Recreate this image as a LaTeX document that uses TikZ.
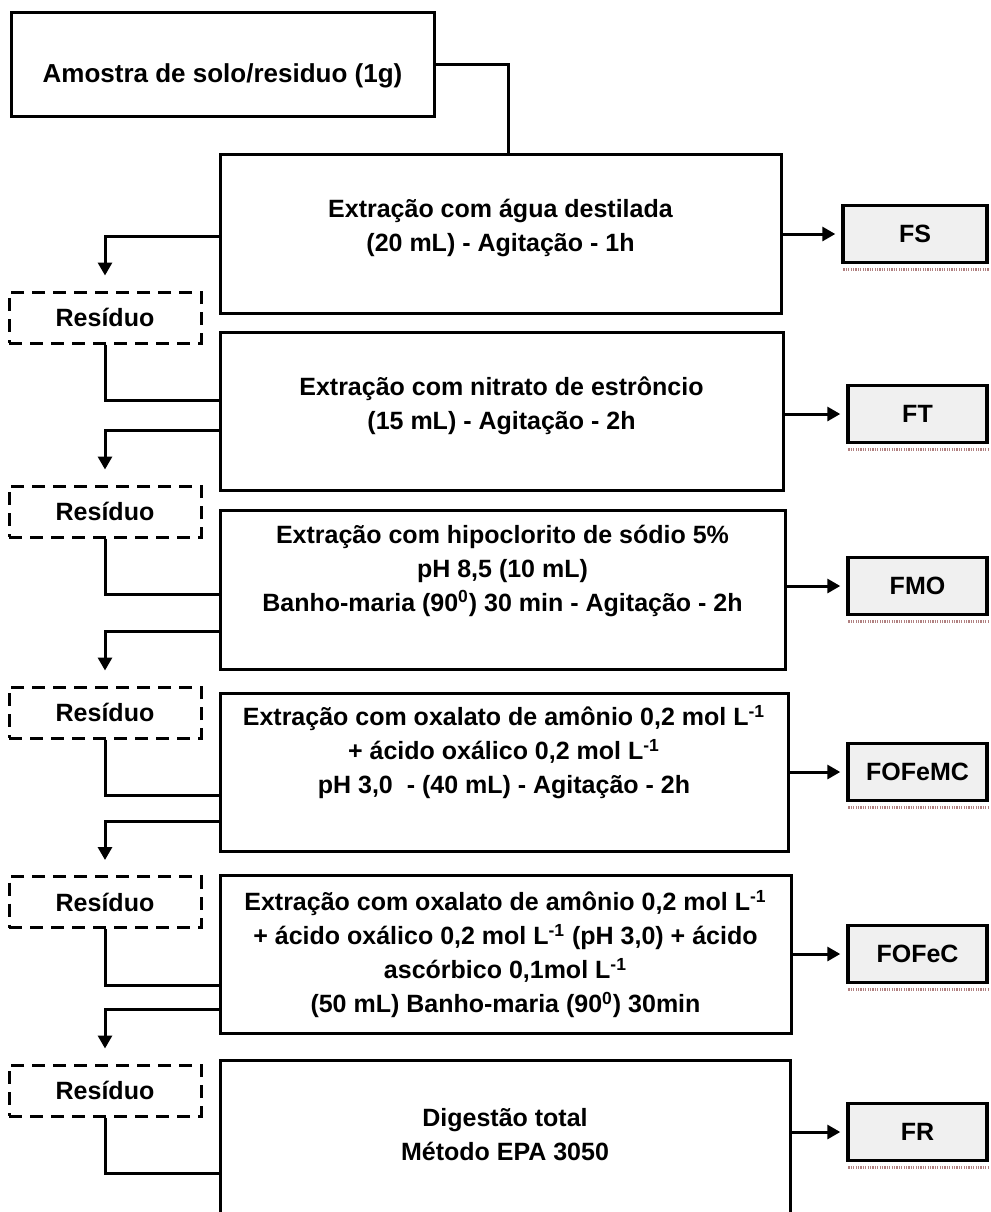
\documentclass[tikz,border=0pt]{standalone}
\usepackage{fontspec}
\setmainfont{Liberation Sans}
\usepackage{tikz}
\usetikzlibrary{shapes, arrows.meta, positioning, calc}
\definecolor{boxgray}{RGB}{240, 240, 240}
\definecolor{shadered}{RGB}{176, 128, 128}

\begin{document}
\begin{tikzpicture}[x=0.5pt, y=-0.5pt,
    stage/.style={rectangle, draw=black, line width=1.5pt, inner sep=0pt,
      minimum height=79.5pt},
    txt/.style={align=center, font=\fontsize{12.5}{17}\selectfont\bfseries},
    resid/.style={rectangle, draw=black, line width=1.5pt, dash pattern=on 6.5pt off 4pt,
      minimum width=96pt, minimum height=25.5pt, font=\fontsize{12.5}{14}\selectfont\bfseries},
    frac/.style={rectangle, draw=black, fill=boxgray, line width=1.7pt,
      minimum width=69.5pt, minimum height=28.5pt, font=\fontsize{12.5}{14}\selectfont\bfseries},
    flow/.style={line width=1.5pt},
    arr/.style={line width=1.5pt, -{Triangle[length=6.5pt, width=7pt]}},
    shadeline/.style={shadered, line width=1.5pt, dash pattern=on 0.6pt off 0.6pt}
  ]
    \useasboundingbox (0,0) rectangle (991,1212);
    \clip (0,0) rectangle (991,1212);

    \node[stage, minimum width=211.5pt, minimum height=52pt] (amo) at (222.5,64) {};
    \node[txt, font=\fontsize{13}{17}\selectfont\bfseries] (t0) at ([yshift=-6pt]amo.center)
      {Amostra de solo/residuo (1g)};
    \coordinate (j0) at (508,154);

    \node[stage, minimum width=280.5pt] (b1) at (500.5,233.5) {};
    \node[stage, minimum width=281.5pt, minimum height=79pt] (b2) at (501.5,411) {};
    \node[stage, minimum width=282.5pt] (b3) at (502.5,589.5) {};
    \node[stage, minimum width=284pt, minimum height=79pt] (b4) at (504,772) {};
    \node[stage, minimum width=285.5pt, minimum height=79pt] (b5) at (505.5,954) {};
    \node[stage, minimum width=285pt, minimum height=90pt] (b6) at (505,1150) {};

    \node[txt] (t1) at ([yshift=2.75pt]b1.center)
      {Extração com água destilada\\(20 mL) - Agitação - 1h};
    \node[txt] (t2) at ([yshift=2.5pt]b2.center)
      {Extração com nitrato de estrôncio\\(15 mL) - Agitação - 2h};
    \node[txt] (t3) at ([yshift=9.25pt]b3.center)
      {Extração com hipoclorito de sódio 5\%\\pH 8,5 (10 mL)\\
       Banho-maria (90\textsuperscript{0}) 30 min - Agitação - 2h};
    \node[txt] (t4) at ([yshift=10pt]b4.center)
      {Extração com oxalato de amônio 0,2 mol L\textsuperscript{-1}\\
       + ácido oxálico 0,2 mol L\textsuperscript{-1}\\pH 3,0 \ - (40 mL) - Agitação - 2h};
    \node[txt] (t5) at (b5.center)
      {Extração com oxalato de amônio 0,2 mol L\textsuperscript{-1}\\
       + ácido oxálico 0,2 mol L\textsuperscript{-1} (pH 3,0) + ácido\\
       ascórbico 0,1mol L\textsuperscript{-1}\\(50 mL) Banho-maria (90\textsuperscript{0}) 30min};
    \node[txt] (t6) at ([yshift=7.5pt]b6.center) {Digestão total\\Método EPA 3050};

    \node[resid] (r1) at (105,317.5) {Resíduo};
    \node[resid] (r2) at (105,511.5) {Resíduo};
    \node[resid] (r3) at (105,712.5) {Resíduo};
    \node[resid] (r4) at (105,902) {Resíduo};
    \node[resid] (r5) at (105,1090.5) {Resíduo};

    \node[frac, minimum width=72pt] (fs) at (915,234) {FS};
    \node[frac] (ft) at (917.5,414) {FT};
    \node[frac] (fmo) at (917.5,586) {FMO};
    \node[frac] (fofemc) at (917.5,772) {FOFeMC};
    \node[frac] (fofec) at (917.5,954) {FOFeC};
    \node[frac] (fr) at (917.5,1132) {FR};

    \foreach \f in {fs, ft, fmo, fofemc, fofec, fr}
      \draw[shadeline] ([shift={(1pt,-2.6pt)}]\f.south west) -- ([shift={(0pt,-2.6pt)}]\f.south east);

    \draw[flow] (amo.east) -| (j0);

    \draw[arr, shorten >=7.5pt] ([yshift=-1.25pt]b1.west) -| (r1);
    \draw[arr, shorten >=7.5pt] ([yshift=-9.5pt]b2.west) -| (r2);
    \draw[arr, shorten >=7.5pt] ([yshift=-20.75pt]b3.west) -| (r3);
    \draw[arr, shorten >=7.5pt] ([yshift=-24.5pt]b4.west) -| (r4);
    \draw[arr, shorten >=7.5pt] ([yshift=-27.5pt]b5.west) -| (r5);

    \draw[flow] (r1) |- ([yshift=5.5pt]b2.west);
    \draw[flow] (r2) |- ([yshift=-2.25pt]b3.west);
    \draw[flow] (r3) |- ([yshift=-11.5pt]b4.west);
    \draw[flow] (r4) |- ([yshift=-15.5pt]b5.west);
    \draw[flow] (r5) |- ([yshift=-11.5pt]b6.west);

    \draw[arr, shorten >=3pt] (b1.east |- fs) -- (fs);
    \draw[arr, shorten >=3pt] (b2.east |- ft) -- (ft);
    \draw[arr, shorten >=3pt] (b3.east |- fmo) -- (fmo);
    \draw[arr, shorten >=3pt] (b4.east |- fofemc) -- (fofemc);
    \draw[arr, shorten >=3pt] (b5.east |- fofec) -- (fofec);
    \draw[arr, shorten >=3pt] (b6.east |- fr) -- (fr);
  \end{tikzpicture}
\end{document}
